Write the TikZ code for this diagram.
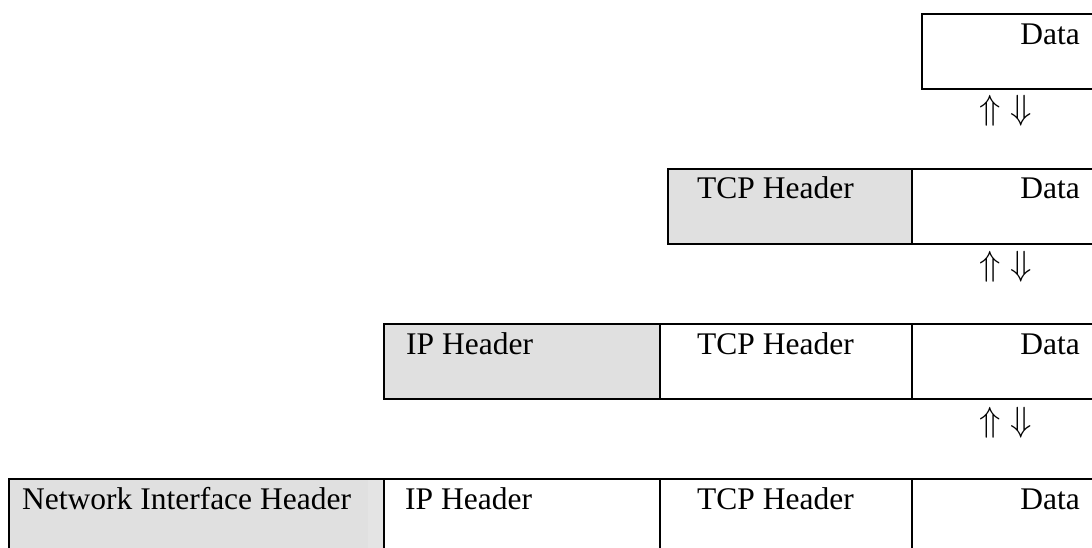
\RequirePackage{fix-cm}
\documentclass[tikz,border=0pt]{standalone}
\usepackage{fontspec}
\setmainfont{Liberation Serif}
\definecolor{hdrgray}{RGB}{224,224,224}
\definecolor{hdrgraylight}{RGB}{228,228,228}
\begin{document}
\begin{tikzpicture}[x=1pt,y=-1pt,
  cell/.style={draw=black, line width=2.4pt, anchor=north west, inner sep=0pt,
               minimum height=75pt},
  hdr/.style={cell, fill=hdrgray},
  txt/.style={anchor=base west, inner sep=0pt,
              font=\fontsize{31.5}{36}\selectfont},
  txtr/.style={txt, anchor=base east},
  updown/.style={inner sep=0pt, font=\fontsize{35}{40}\selectfont}]
\useasboundingbox (0,0) rectangle (1092,547);
\clip (0,0) rectangle (1092,547);

% application layer: data only
\node[cell, minimum width=190pt] (d1) at (921,13) {};
\node[txtr] (d1t) at ([xshift=159pt,yshift=-31pt]d1.north west) {Data};
\node[updown] (a1) at ([xshift=85pt,yshift=-20pt]d1.south west) {$\Uparrow\;\Downarrow$};

% transport layer
\node[hdr, minimum width=244pt] (t2) at (667,167.5) {};
\node[cell, minimum width=190pt] (d2) at (911,167.5) {};
\node[txt] (t2t) at ([xshift=30pt,yshift=-31pt]t2.north west) {TCP Header};
\node[txtr] (d2t) at ([xshift=169pt,yshift=-31pt]d2.north west) {Data};
\node[updown] (a2) at ([xshift=95pt,yshift=-22pt]d2.south west) {$\Uparrow\;\Downarrow$};

% internet layer
\node[hdr, minimum width=276pt] (i3) at (383,323) {};
\node[cell, minimum width=252pt] (t3) at (659,323) {};
\node[cell, minimum width=190pt] (d3) at (911,323) {};
\node[txt] (i3t) at ([xshift=23pt,yshift=-31pt]i3.north west) {IP Header};
\node[txt] (t3t) at ([xshift=38pt,yshift=-31pt]t3.north west) {TCP Header};
\node[txtr] (d3t) at ([xshift=169pt,yshift=-31pt]d3.north west) {Data};
\node[updown] (a3) at ([xshift=95pt,yshift=-22pt]d3.south west) {$\Uparrow\;\Downarrow$};

% network interface layer
\fill[hdrgray] (8,478) rectangle (368,560);
\fill[hdrgraylight] (368,478) rectangle (383,560);
\node[cell, minimum width=375pt, minimum height=82pt] (n4) at (8,478) {};
\node[cell, minimum width=276pt, minimum height=82pt] (i4) at (383,478) {};
\node[cell, minimum width=252pt, minimum height=82pt] (t4) at (659,478) {};
\node[cell, minimum width=190pt, minimum height=82pt] (d4) at (911,478) {};
\node[txt] (n4t) at ([xshift=14pt,yshift=-31pt]n4.north west) {Network Interface Header};
\node[txt] (i4t) at ([xshift=22pt,yshift=-31pt]i4.north west) {IP Header};
\node[txt] (t4t) at ([xshift=38pt,yshift=-31pt]t4.north west) {TCP Header};
\node[txtr] (d4t) at ([xshift=169pt,yshift=-31pt]d4.north west) {Data};
\end{tikzpicture}
\end{document}
